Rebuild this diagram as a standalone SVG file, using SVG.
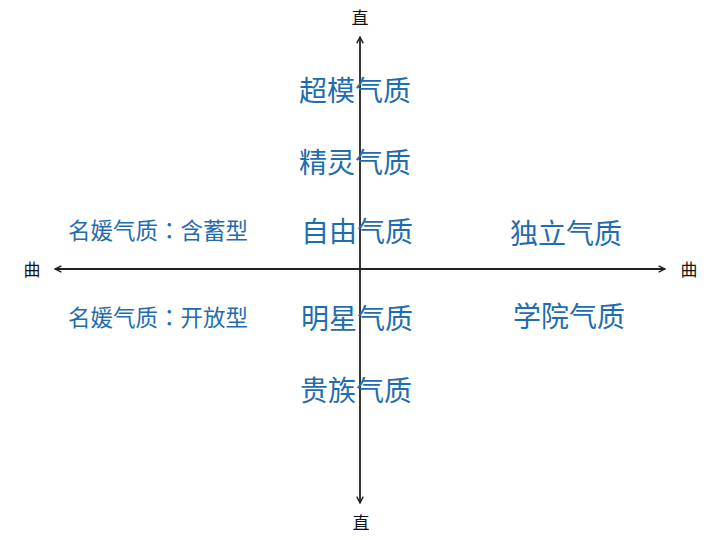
<svg xmlns="http://www.w3.org/2000/svg" width="720" height="540" viewBox="0 0 720 540">
<style>
.big{font-family:"Noto Sans CJK SC","Noto Sans",sans-serif;font-size:28px;fill:#1f6db0;text-anchor:middle}
.mid{font-family:"Noto Sans CJK SC","Noto Sans",sans-serif;font-size:22.5px;fill:#1f6db0;text-anchor:start}
.col{font-family:"Noto Sans CJK TC","Noto Sans",sans-serif}
.ax{font-family:"Noto Sans CJK SC","Noto Sans",sans-serif;font-size:17px;fill:#111;text-anchor:middle}
.line{stroke:#222;stroke-width:1.8;fill:none}
</style>
<defs>
<marker id="arr" viewBox="0 0 10 10" refX="9" refY="5" markerWidth="8" markerHeight="8" markerUnits="userSpaceOnUse" orient="auto-start-reverse">
<path d="M1,1 L9,5 L1,9" fill="none" stroke="#222" stroke-width="1.8"/>
</marker>
</defs>
<rect width="720" height="540" fill="#ffffff"/>
<g id="connectors">
<line class="line" x1="360" y1="37" x2="360" y2="503" marker-start="url(#arr)" marker-end="url(#arr)"/>
<line class="line" x1="55" y1="269" x2="665" y2="269" marker-start="url(#arr)" marker-end="url(#arr)"/>
</g>
<g id="axis-top"><text class="ax" x="360" y="24">直</text></g>
<g id="axis-bottom"><text class="ax" x="361" y="529">直</text></g>
<g id="axis-left"><text class="ax" x="32" y="276">曲</text></g>
<g id="axis-right"><text class="ax" x="689" y="276">曲</text></g>
<g id="n-supermodel"><text class="big" x="355" y="101">超模气质</text></g>
<g id="n-elf"><text class="big" x="355" y="173">精灵气质</text></g>
<g id="n-free"><text class="big" x="357" y="242">自由气质</text></g>
<g id="n-star"><text class="big" x="357" y="329">明星气质</text></g>
<g id="n-noble"><text class="big" x="356" y="401">贵族气质</text></g>
<g id="n-independent"><text class="big" x="566" y="244">独立气质</text></g>
<g id="n-academy"><text class="big" x="569" y="327">学院气质</text></g>
<g id="n-socialite-reserved"><text class="mid" x="68" y="239">名媛气质<tspan class="col">：</tspan>含蓄型</text></g>
<g id="n-socialite-open"><text class="mid" x="68" y="326">名媛气质<tspan class="col">：</tspan>开放型</text></g>
</svg>
